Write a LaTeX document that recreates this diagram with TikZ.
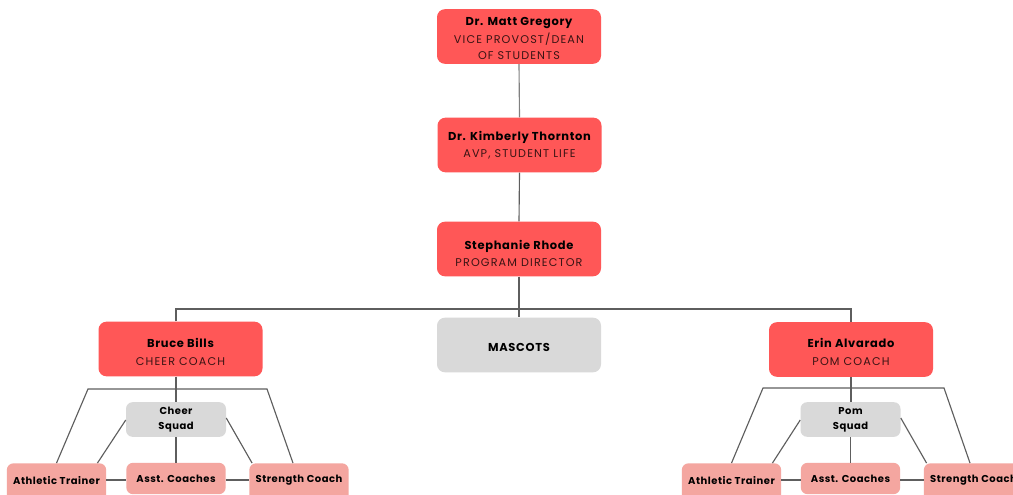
\documentclass[tikz,border=0pt]{standalone}
\usepackage{fontspec}
\setmainfont{Poppins}
\newfontfamily\namefam[LetterSpace=6]{Poppins}
\newfontfamily\titlefam[LetterSpace=10]{Poppins}
\newfontfamily\smallfam[LetterSpace=5]{Poppins}
\usetikzlibrary{calc}
\definecolor{boxred}{HTML}{FF5757}
\definecolor{boxgray}{HTML}{D9D9D9}
\definecolor{boxpink}{HTML}{F4A6A0}
\definecolor{linegray}{HTML}{5E5E5E}
\definecolor{titletext}{HTML}{3A1414}
\newcommand{\nm}[1]{{\namefam\fontsize{8.6pt}{12pt}\selectfont\bfseries #1}}
\newcommand{\ttl}[1]{{\titlefam\fontsize{8.4pt}{10.7pt}\selectfont\color{titletext}#1}}
\tikzset{
  bigbox/.style={rounded corners=6pt, minimum width=123pt, minimum height=41pt, inner sep=0pt},
  redbox/.style={bigbox, fill=boxred},
  graybox/.style={bigbox, fill=boxgray},
  squadbox/.style={rounded corners=5pt, fill=boxgray, minimum width=75pt, minimum height=26pt, inner sep=0pt},
  pinkbox/.style={rounded corners=5pt, fill=boxpink, minimum width=74.5pt, inner sep=0pt},
  txt/.style={align=center, inner sep=0pt, text=black},
  smalltxt/.style={txt, font=\smallfam\fontsize{7.5pt}{11.25pt}\selectfont\bfseries},
  conn/.style={draw=linegray, line width=0.85pt}
}
\begin{document}
\begin{tikzpicture}[x=0.75pt,y=-0.75pt]
\clip (0,0) rectangle (1013,495);
\fill[white] (0,0) rectangle (1013,495);
% boxes
\node[redbox] (matt) at (519,36.5) {};
\node[redbox] (kim) at (519.5,145) {};
\node[redbox] (steph) at (519,249) {};
\node[graybox] (masc) at (519,345) {};
\node[redbox] (bruce) at (180.5,349) {};
\node[redbox] (erin) at (851,349.5) {};
\node[squadbox] (cheer) at (176,419.5) {};
\node[pinkbox, minimum height=28pt] (cat) at (56.5,482) {};
\node[pinkbox, minimum height=23.5pt] (cac) at (176,478.5) {};
\node[pinkbox, minimum height=28pt] (csc) at (299,482) {};
\node[squadbox] (pom) at (850.5,419.5) {};
\node[pinkbox, minimum height=28pt] (pat) at (731.5,482) {};
\node[pinkbox, minimum height=23.5pt] (pac) at (850.5,478.5) {};
\node[pinkbox, minimum height=28pt] (psc) at (973.5,482) {};
% texts
\node[txt] (mattT) at (519,38.5) {\nm{Dr. Matt Gregory}\\[1.5pt]\ttl{VICE PROVOST/DEAN}\\\ttl{OF STUDENTS}};
\node[txt] (kimT) at (519.5,145.5) {\nm{Dr. Kimberly Thornton}\\[1pt]\ttl{AVP, STUDENT LIFE}};
\node[txt] (stephT) at (519,253.5) {\nm{Stephanie Rhode}\\[1pt]\ttl{PROGRAM DIRECTOR}};
\node[txt] (mascT) at (519,347.5) {\nm{MASCOTS}};
\node[txt] (bruceT) at (180.5,352) {\nm{Bruce Bills}\\[1pt]\ttl{CHEER COACH}};
\node[txt] (erinT) at (851,352) {\nm{Erin Alvarado}\\[1pt]\ttl{POM COACH}};
\node[smalltxt] (cheerT) at (176,419.5) {Cheer\\Squad};
\node[smalltxt] (catT) at (56.5,481) {Athletic Trainer};
\node[smalltxt] (cacT) at (176,478.5) {Asst. Coaches};
\node[smalltxt] (cscT) at (299,480) {Strength Coach};
\node[smalltxt] (pomT) at (850.5,419.5) {Pom\\Squad};
\node[smalltxt] (patT) at (731.5,481) {Athletic Trainer};
\node[smalltxt] (pacT) at (850.5,478.5) {Asst. Coaches};
\node[smalltxt] (pscT) at (973.5,480) {Strength Coach};
% coordinates
\coordinate (hl) at (176,309);
\coordinate (hr) at (851,309);
\coordinate (cTL) at (88,389);
\coordinate (cTR) at (267,389);
\coordinate (pTL) at (763,388);
\coordinate (pTR) at (944,388);
% connectors
\draw[conn, draw=gray] (matt.south) -- (kim.north);
\draw[conn] (kim.south) -- (steph.north);
\draw[conn] (steph.south) -- (masc.north);
\draw[conn] (bruce.north -| hl) -- (hl) -- (hr) -- (erin.north -| hr);
% cheer
\draw[conn] (bruce.south -| cheer.north) -- (cheer.north);
\draw[conn] (cheer.south) -- (cac.north);
\draw[conn] (cat.north) -- (cTL) -- (cTR) -- ($(csc.north)+(-6,0)$);
\draw[conn] ($(cheer.west)+(0,0.5)$) -- ($(cat.north east)+(-9,0)$);
\draw[conn] ($(cheer.east)+(0,-1.5)$) -- ($(csc.north west)+(3,0)$);
\draw[conn] (cat.east |- 0,480) -- (cac.west |- 0,480);
\draw[conn] (cac.east |- 0,480) -- (csc.west |- 0,480);
% pom
\draw[conn] (erin.south) -- (pom.north -| erin.south);
\draw[conn] (pom.south) -- (pac.north);
\draw[conn] (pat.north) -- (pTL) -- (pTR) -- ($(psc.north)+(-3.5,0)$);
\draw[conn] ($(pom.west)+(0,0.5)$) -- ($(pat.north east)+(-9,0)$);
\draw[conn] ($(pom.east)+(0,-1.5)$) -- ($(psc.north west)+(3,0)$);
\draw[conn] (pat.east |- 0,480) -- (pac.west |- 0,480);
\draw[conn] (pac.east |- 0,480) -- (psc.west |- 0,480);
\end{tikzpicture}
\end{document}
